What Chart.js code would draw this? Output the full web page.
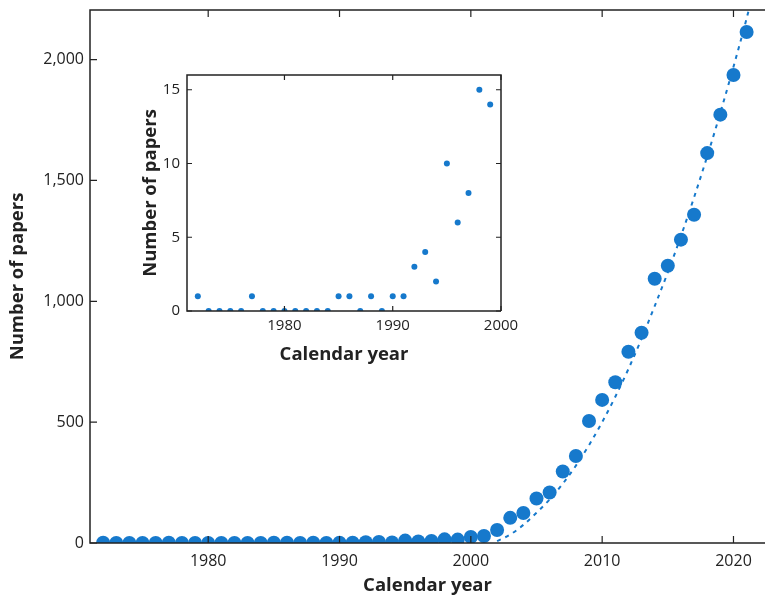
<!DOCTYPE html>
<html>
<head>
<meta charset="utf-8">
<script src="https://cdn.jsdelivr.net/npm/chart.js@4/dist/chart.umd.min.js"></script>
<style>
  html, body { margin: 0; padding: 0; background: #fff; }
  #wrap { position: relative; width: 765px; height: 597px; }
  #mainChart { position: absolute; left: 0; top: 0; }
  #insetChart { position: absolute; left: 110px; top: 60px; }
</style>
</head>
<body>
<div id="wrap">
  <canvas id="mainChart" width="765" height="597"></canvas>
  <canvas id="insetChart" width="420" height="310"></canvas>
</div>
<script>
// Papers per calendar year, full range (main plot)
const mainYears = [1972, 1973, 1974, 1975, 1976, 1977, 1978, 1979, 1980, 1981,
  1982, 1983, 1984, 1985, 1986, 1987, 1988, 1989, 1990, 1991,
  1992, 1993, 1994, 1995, 1996, 1997, 1998, 1999, 2000, 2001,
  2002, 2003, 2004, 2005, 2006, 2007, 2008, 2009, 2010, 2011,
  2012, 2013, 2014, 2015, 2016, 2017, 2018, 2019, 2020, 2021];
const mainCounts = [1, 0, 0, 0, 0, 1, 0, 0, 0, 0,
  0, 0, 0, 1, 1, 0, 1, 0, 1, 1,
  3, 4, 2, 10, 6, 8, 15, 14, 25, 29,
  54, 104, 124, 184, 209, 296, 360, 505, 592, 665,
  791, 870, 1093, 1147, 1255, 1358, 1613, 1772, 1936, 2114];

// Dashed fit curve
const fitYears = [2002, 2003, 2004, 2005, 2006, 2007, 2008, 2009, 2010, 2011,
  2012, 2013, 2014, 2015, 2016, 2017, 2018, 2019, 2020, 2021, 2021.5];
const fitValues = [8, 35, 75, 125, 180, 245, 320, 405, 500, 605,
  720, 845, 980, 1120, 1270, 1430, 1600, 1780, 1970, 2170, 2280];

// Early years only (inset)
const insetYears = mainYears.slice(0, 28);
const insetCounts = [1, 0, 0, 0, 0, 1, 0, 0, 0, 0,
  0, 0, 0, 1, 1, 0, 1, 0, 1, 1,
  3, 4, 2, 10, 6, 8, 15, 14];

// Tick labels
const mainXTicks = [1980, 1990, 2000, 2010, 2020];
const mainYTicks = [0, 500, 1000, 1500, 2000];
const insetXTicks = [1980, 1990, 2000];
const insetYTicks = [0, 5, 10, 15];

const blue = '#1679cc';
const axisColor = '#222';
const fontFamily = '"Open Sans", sans-serif';

function toPoints(xs, ys) {
  return xs.map((x, i) => ({ x: x, y: ys[i] }));
}

// draw the frame and inward tick marks
const frameTicks = {
  id: 'frameTicks',
  afterDatasetsDraw(chart, args, opts) {
    const { ctx, chartArea: a, scales: { x, y } } = chart;
    const len = opts.tickLength;
    ctx.save();
    ctx.strokeStyle = axisColor;
    ctx.lineWidth = 1.5;
    ctx.beginPath();
    ctx.moveTo(a.right, a.bottom);
    ctx.lineTo(a.left, a.bottom);
    ctx.lineTo(a.left, a.top);
    ctx.lineTo(a.right, a.top);
    if (opts.rightSide) ctx.lineTo(a.right, a.bottom);
    ctx.stroke();

    ctx.lineWidth = 1.2;
    ctx.beginPath();
    x.ticks.forEach(t => {
      const px = x.getPixelForValue(t.value);
      ctx.moveTo(px, a.bottom); ctx.lineTo(px, a.bottom - len);
      ctx.moveTo(px, a.top); ctx.lineTo(px, a.top + len);
    });
    y.ticks.forEach(t => {
      const py = y.getPixelForValue(t.value);
      ctx.moveTo(a.left, py); ctx.lineTo(a.left + len, py);
      if (opts.rightSide) { ctx.moveTo(a.right, py); ctx.lineTo(a.right - len, py); }
    });
    ctx.stroke();
    ctx.restore();
  }
};

function fixedTicks(list) {
  return scale => { scale.ticks = list.map(v => ({ value: v })); };
}

// fixed box size, no extra label padding
function fitX(h) {
  return scale => { scale.height = h; scale.paddingLeft = 0; scale.paddingRight = 0; };
}
function fitY(w) {
  return scale => { scale.width = w; scale.paddingTop = 0; scale.paddingBottom = 0; };
}

const titleFont = { family: fontFamily, size: 18.5, weight: 'bold' };

// Main chart
new Chart(document.getElementById('mainChart').getContext('2d'), {
  type: 'scatter',
  data: {
    datasets: [{
      data: toPoints(mainYears, mainCounts),
      backgroundColor: blue,
      borderWidth: 0,
      pointRadius: 7
    }, {
      data: toPoints(fitYears, fitValues),
      showLine: true,
      borderColor: blue,
      borderWidth: 2,
      borderDash: [4, 5],
      pointRadius: 0,
      cubicInterpolationMode: 'monotone',
      clip: 0
    }]
  },
  options: {
    responsive: false,
    animation: false,
    layout: { autoPadding: false, padding: { top: 10, right: 0, bottom: 0, left: 0 } },
    plugins: {
      legend: { display: false },
      tooltip: { enabled: false },
      frameTicks: { tickLength: 7, rightSide: false }
    },
    scales: {
      x: {
        type: 'linear', min: 1971, max: 2022.4,
        afterBuildTicks: fixedTicks(mainXTicks),
        afterFit: fitX(54),
        grid: { display: false, drawTicks: false },
        border: { display: false },
        ticks: { padding: 9, color: axisColor, font: { family: fontFamily, size: 16 },
          callback: v => String(v) },
        title: { display: true, text: 'Calendar year', color: axisColor,
          padding: { top: 0, bottom: 0 }, font: titleFont }
      },
      y: {
        min: 0, max: 2205,
        afterBuildTicks: fixedTicks(mainYTicks),
        afterFit: fitY(90),
        grid: { display: false, drawTicks: false },
        border: { display: false },
        ticks: { padding: 6, color: axisColor, font: { family: fontFamily, size: 16 },
          callback: v => v.toLocaleString('en-US') },
        title: { display: true, text: 'Number of papers', color: axisColor,
          padding: { top: 7, bottom: 0 }, font: titleFont }
      }
    }
  },
  plugins: [frameTicks]
});

// Inset chart
new Chart(document.getElementById('insetChart').getContext('2d'), {
  type: 'scatter',
  data: {
    datasets: [{
      data: toPoints(insetYears, insetCounts),
      backgroundColor: blue,
      borderWidth: 0,
      pointRadius: 3
    }]
  },
  options: {
    responsive: false,
    animation: false,
    layout: { autoPadding: false, padding: { top: 15, right: 29, bottom: 0, left: 0 } },
    plugins: {
      legend: { display: false },
      tooltip: { enabled: false },
      frameTicks: { tickLength: 5, rightSide: true }
    },
    scales: {
      x: {
        type: 'linear', min: 1971, max: 2000,
        afterBuildTicks: fixedTicks(insetXTicks),
        afterFit: fitX(59),
        grid: { display: false, drawTicks: false },
        border: { display: false },
        ticks: { padding: 6, color: axisColor, font: { family: fontFamily, size: 15 },
          callback: v => String(v) },
        title: { display: true, text: 'Calendar year', color: axisColor,
          padding: { top: 0, bottom: 4 }, font: titleFont }
      },
      y: {
        min: 0, max: 16,
        afterBuildTicks: fixedTicks(insetYTicks),
        afterFit: fitY(77),
        grid: { display: false, drawTicks: false },
        border: { display: false },
        ticks: { padding: 7, color: axisColor, font: { family: fontFamily, size: 15 } },
        title: { display: true, text: 'Number of papers', color: axisColor,
          padding: { top: 30, bottom: 0 }, font: titleFont }
      }
    }
  },
  plugins: [frameTicks]
});
</script>
</body>
</html>
